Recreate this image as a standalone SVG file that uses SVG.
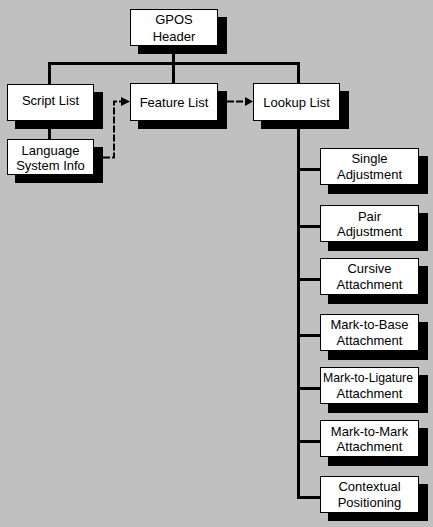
<svg xmlns="http://www.w3.org/2000/svg" width="433" height="527" viewBox="0 0 433 527">
<style>
.box{fill:#fff;stroke:#000;stroke-width:1}
.sh{fill:#000}
.t{font-family:"Liberation Sans",Arial,sans-serif;font-size:13px;fill:#000;text-anchor:middle}
.ln{fill:none;stroke:#000;stroke-width:3}
.dash{fill:none;stroke:#000;stroke-width:2;stroke-dasharray:7 2}
</style>
<rect width="433" height="527" fill="#c0c0c0"/>
<g id="connectors">
<path class="ln" d="M48,63.5H300M173.5,46V83M49.5,62V84M298.5,62V83M49.5,128V139M298.5,121V499M297,169.5H321M297,226.5H321M297,279.5H321M297,335.5H321M297,388.5H321M297,441.5H321M297,497.5H321"/>
<path class="dash" d="M103,157.5H114V101.5H122"/>
<polygon points="121,97 130,101.5 121,106" fill="#000"/>
<path class="dash" d="M227,101.5H246"/>
<polygon points="245,97 253,101.5 245,106" fill="#000"/>
</g>
<g id="gpos-header">
<rect class="sh" x="138" y="17" width="89" height="37"/>
<rect class="box" x="130.5" y="9.5" width="87" height="36"/>
<text class="t" x="174" y="24">GPOS</text>
<text class="t" x="174" y="41">Header</text>
</g>
<g id="script-list">
<rect class="sh" x="15" y="92" width="88" height="37"/>
<rect class="box" x="7.5" y="84.5" width="86" height="36"/>
<text class="t" x="50.5" y="105">Script List</text>
</g>
<g id="language-system-info">
<rect class="sh" x="15" y="147" width="88" height="36"/>
<rect class="box" x="7.5" y="139.5" width="86" height="35"/>
<text class="t" x="50.5" y="155">Language</text>
<text class="t" x="50.5" y="170">System Info</text>
</g>
<g id="feature-list">
<rect class="sh" x="138" y="91" width="89" height="38"/>
<rect class="box" x="130.5" y="83.5" width="87" height="37"/>
<text class="t" x="174" y="106.5">Feature List</text>
</g>
<g id="lookup-list">
<rect class="sh" x="261" y="91" width="88" height="38"/>
<rect class="box" x="253.5" y="83.5" width="86" height="37"/>
<text class="t" x="296.5" y="106.5">Lookup List</text>
</g>
<g id="single-adjustment">
<rect class="sh" x="328" y="156" width="100" height="38"/>
<rect class="box" x="320.5" y="148.5" width="98" height="36"/>
<text class="t" x="369.5" y="163">Single</text>
<text class="t" x="369.5" y="178.5">Adjustment</text>
</g>
<g id="pair-adjustment">
<rect class="sh" x="328" y="213" width="100" height="38"/>
<rect class="box" x="320.5" y="205.5" width="98" height="36"/>
<text class="t" x="369.5" y="220.5">Pair</text>
<text class="t" x="369.5" y="235.5">Adjustment</text>
</g>
<g id="cursive-attachment">
<rect class="sh" x="328" y="266" width="100" height="38"/>
<rect class="box" x="320.5" y="258.5" width="98" height="36"/>
<text class="t" x="369.5" y="273">Cursive</text>
<text class="t" x="369.5" y="288.5">Attachment</text>
</g>
<g id="mark-to-base">
<rect class="sh" x="328" y="322" width="100" height="38"/>
<rect class="box" x="320.5" y="314.5" width="98" height="36"/>
<text class="t" x="369.5" y="329">Mark-to-Base</text>
<text class="t" x="369.5" y="344.5">Attachment</text>
</g>
<g id="mark-to-ligature">
<rect class="sh" x="328" y="375" width="100" height="38"/>
<rect class="box" x="320.5" y="367.5" width="98" height="36"/>
<text class="t" x="368" y="382" textLength="90" lengthAdjust="spacingAndGlyphs">Mark-to-Ligature</text>
<text class="t" x="369.5" y="397.5">Attachment</text>
</g>
<g id="mark-to-mark">
<rect class="sh" x="328" y="428" width="100" height="38"/>
<rect class="box" x="320.5" y="420.5" width="98" height="36"/>
<text class="t" x="369.5" y="435.5">Mark-to-Mark</text>
<text class="t" x="369.5" y="450.5">Attachment</text>
</g>
<g id="contextual-positioning">
<rect class="sh" x="328" y="484" width="100" height="37"/>
<rect class="box" x="320.5" y="476.5" width="98" height="36"/>
<text class="t" x="369.5" y="491">Contextual</text>
<text class="t" x="369.5" y="506.5">Positioning</text>
</g>
</svg>
